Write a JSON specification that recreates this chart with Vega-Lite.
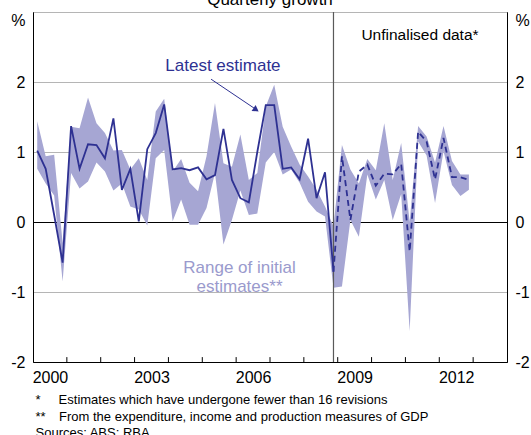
{
  "$schema": "https://vega.github.io/schema/vega-lite/v6.json",
  "width": 474,
  "height": 350,
  "autosize": {"type": "none"},
  "padding": {"left": 33, "top": 12, "right": 24, "bottom": 73},
  "config": {"view": {"stroke": "black", "strokeWidth": 1}, "font": "Liberation Sans", "axis": {"labelOverlap": false, "labelFlush": false}},
  "datasets": {
    "yearTicks": [
      {"yr": 2001}, {"yr": 2002}, {"yr": 2003}, {"yr": 2004}, {"yr": 2005}, {"yr": 2006}, {"yr": 2007},
      {"yr": 2008}, {"yr": 2009}, {"yr": 2010}, {"yr": 2011}, {"yr": 2012}, {"yr": 2013}
    ]
  },
  "data": {"values": [
    {"t": 2000.125, "est": 1.02, "lo": 0.76, "hi": 1.44},
    {"t": 2000.375, "est": 0.76, "lo": 0.55, "hi": 0.94},
    {"t": 2000.625, "est": 0.10, "lo": 0.38, "hi": 0.96},
    {"t": 2000.875, "est": -0.58, "lo": -0.85, "hi": -0.30},
    {"t": 2001.125, "est": 1.37, "lo": 0.70, "hi": 1.36},
    {"t": 2001.375, "est": 0.76, "lo": 0.48, "hi": 1.34},
    {"t": 2001.625, "est": 1.11, "lo": 0.58, "hi": 1.78},
    {"t": 2001.875, "est": 1.10, "lo": 0.85, "hi": 1.41},
    {"t": 2002.125, "est": 0.91, "lo": 0.72, "hi": 1.27},
    {"t": 2002.375, "est": 1.48, "lo": 0.45, "hi": 1.02},
    {"t": 2002.625, "est": 0.46, "lo": 0.55, "hi": 1.03},
    {"t": 2002.875, "est": 0.76, "lo": 0.22, "hi": 0.75},
    {"t": 2003.125, "est": 0.01, "lo": 0.18, "hi": 0.91},
    {"t": 2003.375, "est": 1.04, "lo": -0.05, "hi": 0.60},
    {"t": 2003.625, "est": 1.27, "lo": 0.91, "hi": 1.58},
    {"t": 2003.875, "est": 1.68, "lo": 1.03, "hi": 1.76},
    {"t": 2004.125, "est": 0.75, "lo": 0.01, "hi": 0.72},
    {"t": 2004.375, "est": 0.77, "lo": 0.32, "hi": 0.90},
    {"t": 2004.625, "est": 0.74, "lo": -0.04, "hi": 0.56},
    {"t": 2004.875, "est": 0.78, "lo": -0.04, "hi": 0.44},
    {"t": 2005.125, "est": 0.61, "lo": 0.20, "hi": 0.94},
    {"t": 2005.375, "est": 0.67, "lo": 0.70, "hi": 1.70},
    {"t": 2005.625, "est": 1.33, "lo": -0.32, "hi": 0.84},
    {"t": 2005.875, "est": 0.60, "lo": 0.03, "hi": 0.79},
    {"t": 2006.125, "est": 0.34, "lo": 0.45, "hi": 1.25},
    {"t": 2006.375, "est": 0.28, "lo": 0.10, "hi": 0.60},
    {"t": 2006.625, "est": 1.00, "lo": 0.12, "hi": 0.70},
    {"t": 2006.875, "est": 1.67, "lo": 0.85, "hi": 1.65},
    {"t": 2007.125, "est": 1.67, "lo": 1.00, "hi": 1.96},
    {"t": 2007.375, "est": 0.76, "lo": 0.68, "hi": 1.36},
    {"t": 2007.625, "est": 0.78, "lo": 0.75, "hi": 1.08},
    {"t": 2007.875, "est": 0.61, "lo": 0.56, "hi": 0.82},
    {"t": 2008.125, "est": 1.19, "lo": 0.29, "hi": 0.65},
    {"t": 2008.375, "est": 0.34, "lo": 0.15, "hi": 0.46},
    {"t": 2008.625, "est": 0.71, "lo": 0.08, "hi": 0.22},
    {"t": 2008.875, "est": -0.71, "lo": -0.94, "hi": -0.06},
    {"t": 2009.125, "est": 0.94, "lo": -0.92, "hi": 1.10},
    {"t": 2009.375, "est": 0.03, "lo": 0.03, "hi": 0.75},
    {"t": 2009.625, "est": 0.72, "lo": -0.21, "hi": 0.55},
    {"t": 2009.875, "est": 0.82, "lo": 0.68, "hi": 0.90},
    {"t": 2010.125, "est": 0.52, "lo": 0.32, "hi": 0.74},
    {"t": 2010.375, "est": 0.69, "lo": 0.60, "hi": 1.41},
    {"t": 2010.625, "est": 0.68, "lo": 0.03, "hi": 0.60},
    {"t": 2010.875, "est": 0.83, "lo": 0.40, "hi": 1.13},
    {"t": 2011.125, "est": -0.42, "lo": -1.56, "hi": 0.00},
    {"t": 2011.375, "est": 1.29, "lo": 1.15, "hi": 1.37},
    {"t": 2011.625, "est": 1.15, "lo": 0.95, "hi": 1.22},
    {"t": 2011.875, "est": 0.61, "lo": 0.27, "hi": 0.85},
    {"t": 2012.125, "est": 1.20, "lo": 1.01, "hi": 1.37},
    {"t": 2012.375, "est": 0.64, "lo": 0.53, "hi": 0.87},
    {"t": 2012.625, "est": 0.64, "lo": 0.37, "hi": 0.68},
    {"t": 2012.875, "est": 0.60, "lo": 0.46, "hi": 0.68}
  ]},
  "layer": [
    {
      "mark": {"type": "area", "color": "#a6a6d3", "opacity": 1},
      "encoding": {
        "x": {"field": "t", "type": "quantitative",
          "scale": {"domain": [2000, 2014], "nice": false, "zero": false},
          "axis": {
            "values": [2000, 2003, 2006, 2009, 2012],
            "labelExpr": "'' + datum.value",
            "ticks": false,
            "labelOffset": 16.93, "labelPadding": 7, "labelFontSize": 16, "labelColor": "black",
            "labelFont": "Liberation Sans", "labelFlush": false, "labelOverlap": false,
            "grid": false, "domainColor": "black",
            "title": ["*\u00a0\u00a0\u00a0\u00a0\u00a0Estimates which have undergone fewer than 16 revisions", "**\u00a0\u00a0\u00a0\u2009From the expenditure, income and production measures of GDP", "Sources: ABS; RBA"],
            "titleFont": "Liberation Sans", "titleFontSize": 13, "titleFontWeight": "normal", "titleColor": "black",
            "titleAnchor": "start", "titleAlign": "left", "titleBaseline": "alphabetic",
            "titleX": 2, "titleY": 41.5, "titleLineHeight": 16.5
          }
        },
        "y": {"field": "lo", "type": "quantitative",
          "scale": {"domain": [-2, 3], "nice": false, "zero": false},
          "axis": {
            "values": [-2, -1, 0, 1, 2, 3],
            "labelExpr": "datum.value == 3 ? '%' : replace(datum.label, '\u2212', '-')",
            "ticks": false, "labelPadding": 8, "labelFontSize": 16, "labelColor": "black",
            "labelFont": "Liberation Sans", "labelOverlap": false, "labelFlush": false,
            "labelBaseline": {"condition": {"test": "datum.value == 3", "value": "top"}, "value": "middle"},
            "domainColor": "black", "grid": true,
            "gridColor": {"condition": {"test": "datum.value == 0", "value": "black"}, "value": "#b5b5b5"},
            "title": null
          }
        },
        "y2": {"field": "hi"}
      }
    },
    {
      "data": {"name": "yearTicks"},
      "mark": {"type": "rule", "color": "black", "strokeWidth": 1},
      "encoding": {
        "x": {"field": "yr", "type": "quantitative"},
        "y": {"datum": -2, "type": "quantitative", "axis": null},
        "y2": {"datum": -1.93}
      }
    },
    {
      "data": {"values": [{}]},
      "mark": {"type": "rule", "color": "#5a5a5a", "strokeWidth": 1.2},
      "encoding": {"x": {"datum": 2008.875, "type": "quantitative"}}
    },
    {
      "transform": [{"filter": "datum.t <= 2008.9"}],
      "mark": {"type": "line", "color": "#2e3192", "strokeWidth": 1.8},
      "encoding": {
        "x": {"field": "t", "type": "quantitative"},
        "y": {"field": "est", "type": "quantitative", "axis": null}
      }
    },
    {
      "transform": [{"filter": "datum.t >= 2008.8"}],
      "mark": {"type": "line", "color": "#2e3192", "strokeWidth": 1.8, "strokeDash": [6, 4]},
      "encoding": {
        "x": {"field": "t", "type": "quantitative"},
        "y": {"field": "est", "type": "quantitative",
          "axis": {
            "orient": "right",
            "values": [-2, -1, 0, 1, 2, 3],
            "labelExpr": "datum.value == 3 ? '%' : replace(datum.label, '\u2212', '-')",
            "ticks": false, "labelPadding": 8, "labelFontSize": 16, "labelColor": "black",
            "labelFont": "Liberation Sans", "labelOverlap": false, "labelFlush": false,
            "labelBaseline": {"condition": {"test": "datum.value == 3", "value": "top"}, "value": "middle"},
            "domainColor": "black", "grid": false, "title": null
          }
        }
      }
    },
    {
      "data": {"values": [{}]},
      "mark": {"type": "rule", "color": "#2e3192", "strokeWidth": 1},
      "encoding": {
        "x": {"datum": 2005.26, "type": "quantitative"},
        "y": {"datum": 2.04, "type": "quantitative", "axis": null},
        "x2": {"datum": 2006.6},
        "y2": {"datum": 1.604}
      }
    },
    {
      "data": {"values": [{}]},
      "mark": {"type": "point", "shape": "triangle-right", "filled": true, "color": "#2e3192", "size": 50, "angle": 34.6, "opacity": 1},
      "encoding": {
        "x": {"datum": 2006.59, "type": "quantitative"},
        "y": {"datum": 1.604, "type": "quantitative", "axis": null}
      }
    },
    {
      "data": {"values": [{}]},
      "mark": {"type": "text", "text": "Latest estimate", "font": "Liberation Sans", "fontSize": 17, "color": "#2e3192", "align": "center", "baseline": "middle"},
      "encoding": {
        "x": {"datum": 2005.61, "type": "quantitative"},
        "y": {"datum": 2.23, "type": "quantitative", "axis": null}
      }
    },
    {
      "data": {"values": [{}]},
      "mark": {"type": "text", "text": ["Range of initial", "estimates**"], "lineHeight": 19, "font": "Liberation Sans", "fontSize": 17, "color": "#9a9acd", "align": "center", "baseline": "middle"},
      "encoding": {
        "x": {"datum": 2006.1, "type": "quantitative"},
        "y": {"datum": -0.654, "type": "quantitative", "axis": null}
      }
    },
    {
      "data": {"values": [{}]},
      "mark": {"type": "text", "text": "Unfinalised data*", "font": "Liberation Sans", "fontSize": 15.5, "color": "black", "align": "center", "baseline": "middle"},
      "encoding": {
        "x": {"datum": 2011.43, "type": "quantitative"},
        "y": {"datum": 2.67, "type": "quantitative", "axis": null}
      }
    },
    {
      "data": {"values": [{}]},
      "mark": {"type": "text", "text": "Quarterly growth", "font": "Liberation Sans", "fontSize": 17, "color": "black", "align": "center", "baseline": "alphabetic"},
      "encoding": {
        "x": {"datum": 2007.0, "type": "quantitative"},
        "y": {"datum": 3.1, "type": "quantitative", "axis": null}
      }
    }
  ],
  "resolve": {"axis": {"y": "independent"}}
}
